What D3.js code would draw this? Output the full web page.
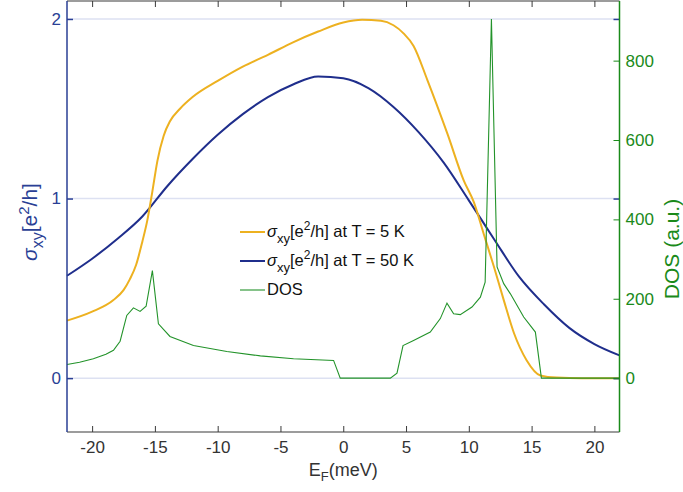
<!DOCTYPE html>
<html>
<head>
<meta charset="utf-8">
<script src="https://cdn.jsdelivr.net/npm/d3@7"></script>
<style>
  body { margin: 0; background: #fff; }
  svg { font-family: "Liberation Sans", Arial, Helvetica, sans-serif; }
</style>
</head>
<body>
<svg id="chart" width="683" height="492"></svg>
<script>
// sigma_xy at T = 5 K
let sig5X = [-22, -20, -18.3, -17.5, -17, -16.5, -16, -15.6, -15.2, -14.8, -14.3, -13.8, -13, -12, -10, -8, -6, -4, -2, 0,
  1.5, 3, 4, 4.8, 5.6, 6.7, 8.3, 9.6, 10.4, 11.2, 12, 12.8, 13.6, 14.6, 15.7, 17, 19, 22]
let sig5Y = [0.32, 0.37, 0.435, 0.49, 0.55, 0.63, 0.76, 0.88, 1.04, 1.21, 1.35, 1.43, 1.50, 1.565, 1.655, 1.735, 1.80, 1.87, 1.93, 1.98,
  1.995, 1.99, 1.965, 1.92, 1.85, 1.66, 1.36, 1.10, 0.98, 0.80, 0.62, 0.43, 0.25, 0.10, 0.015, 0.003, 0, 0]

// sigma_xy at T = 50 K
let sig50X = [-22, -20, -18, -16, -14, -12, -10, -8, -6, -4, -2, 0, 2, 4, 6, 8, 10, 12, 14, 16, 18, 20, 22]
let sig50Y = [0.57, 0.665, 0.775, 0.90, 1.07, 1.22, 1.355, 1.47, 1.565, 1.635, 1.68, 1.67, 1.615, 1.51, 1.37, 1.20, 0.99, 0.775,
  0.565, 0.41, 0.28, 0.19, 0.127]

// density of states (right axis)
let dosX = [-22, -21, -19.9, -18.9, -18.3, -17.77, -17.24, -16.71, -16.18, -15.7, -15.2, -14.72, -13.8, -11.93, -9.27, -6.6, -3.96,
  -0.77, -0.24, 3.75, 4.28, 4.76, 5.6, 6.93, 7.73, 8.26, 8.79, 9.32, 10.25, 10.92, 11.3, 11.8, 12.25, 12.78, 13.3, 14.37, 15.3,
  15.78, 22]
let dosY = [34.5, 40, 49, 60, 70, 93, 158, 177, 168, 181, 271, 137, 105, 82, 67, 56, 49,
  44.6, 0, 0, 12.6, 82, 95, 116, 150, 189, 162, 160, 179, 204, 242, 905, 280, 238, 213, 154, 116,
  0, 0]

let xTicks = [-20, -15, -10, -5, 0, 5, 10, 15, 20]
let leftTicks = [0, 1, 2]
let rightTicks = [0, 200, 400, 600, 800]

const W = 683, H = 492
const m = {left: 67, right: 63.5, top: 1, bottom: 60}
const c5 = '#edb120', c50 = '#1f2e8c', cDos = '#23932a'
const axBlue = '#2a3f95', axGreen = '#1a8a1a', axGray = '#3a3a3a'
const tick = 6
const fmt = d => String(d)

let svg = d3.select('#chart')
let x = d3.scaleLinear().domain([-22, 22]).range([m.left, W - m.right])
let yL = d3.scaleLinear().domain([-0.3, 2.1]).range([H - m.bottom, m.top])
let yR = d3.scaleLinear().domain([-0.3 * 452.5, 2.1 * 452.5]).range([H - m.bottom, m.top])

// grid lines on left ticks
svg.append('g').selectAll('line').data(leftTicks).join('line')
  .attr('x1', m.left).attr('x2', W - m.right)
  .attr('y1', d => yL(d)).attr('y2', d => yL(d))
  .attr('stroke', '#dde1f2').attr('stroke-width', 1.5)

// curves
let pts = (xs, ys) => xs.map((v, i) => [v, ys[i]])
let lineL = d3.line().x(d => x(d[0])).y(d => yL(d[1])).curve(d3.curveMonotoneX)
let lineR = d3.line().x(d => x(d[0])).y(d => yR(d[1]))

svg.append('path').datum(pts(sig50X, sig50Y)).attr('d', lineL)
  .attr('fill', 'none').attr('stroke', c50).attr('stroke-width', 2)
svg.append('path').datum(pts(sig5X, sig5Y)).attr('d', lineL)
  .attr('fill', 'none').attr('stroke', c5).attr('stroke-width', 2)
svg.append('path').datum(pts(dosX, dosY)).attr('d', lineR)
  .attr('fill', 'none').attr('stroke', cDos).attr('stroke-width', 1.1)

// axes
let styleAxis = function(g, col, txtCol) {
  g.select('.domain').remove()
  g.selectAll('.tick line').attr('stroke', col).attr('stroke-width', 1)
  g.selectAll('.tick text').attr('fill', txtCol).attr('font-size', 17)
    .attr('font-family', '"Liberation Sans", Arial, sans-serif')
}

let gB = svg.append('g').attr('transform', 'translate(0,' + (H - m.bottom) + ')')
  .call(d3.axisBottom(x).tickValues(xTicks).tickSize(-tick).tickPadding(9).tickFormat(fmt))
styleAxis(gB, axGray, '#333')
let gT = svg.append('g').attr('transform', 'translate(0,' + m.top + ')')
  .call(d3.axisTop(x).tickValues(xTicks).tickSize(-tick).tickFormat(''))
styleAxis(gT, axGray, '#333')
let gL = svg.append('g').attr('transform', 'translate(' + m.left + ',0)')
  .call(d3.axisLeft(yL).tickValues(leftTicks).tickSize(-tick).tickPadding(6).tickFormat(fmt))
styleAxis(gL, axBlue, axBlue)
gL.selectAll('.tick line').attr('stroke-width', 1.5)
let gR2 = svg.append('g').attr('transform', 'translate(' + (W - m.right) + ',0)')
  .call(d3.axisRight(yL).tickValues(leftTicks).tickSize(-tick).tickFormat(''))
styleAxis(gR2, axBlue, axBlue)
gR2.selectAll('.tick line').attr('stroke-width', 1.5)
let gR = svg.append('g').attr('transform', 'translate(' + (W - m.right) + ',0)')
  .call(d3.axisRight(yR).tickValues(rightTicks).tickSize(-tick).tickPadding(6).tickFormat(fmt))
styleAxis(gR, axGreen, axGreen)

// frame
svg.append('line').attr('x1', m.left).attr('x2', W - m.right).attr('y1', H - m.bottom).attr('y2', H - m.bottom)
  .attr('stroke', axGray).attr('stroke-width', 1.2)
svg.append('line').attr('x1', m.left).attr('x2', W - m.right).attr('y1', m.top).attr('y2', m.top)
  .attr('stroke', axGray).attr('stroke-width', 1.2)
svg.append('line').attr('x1', m.left).attr('x2', m.left).attr('y1', m.top).attr('y2', H - m.bottom)
  .attr('stroke', axBlue).attr('stroke-width', 1.5)
svg.append('line').attr('x1', W - m.right).attr('x2', W - m.right).attr('y1', m.top).attr('y2', H - m.bottom)
  .attr('stroke', axGreen).attr('stroke-width', 1.5)

// axis titles
let xt = svg.append('text').attr('x', x(0)).attr('y', 476).attr('text-anchor', 'middle')
  .attr('font-size', 18).attr('fill', '#333')
xt.append('tspan').text('E')
xt.append('tspan').attr('dy', 5).attr('font-size', 13).text('F')
xt.append('tspan').attr('dy', -5).text('(meV)')

let lt = svg.append('text').attr('transform', 'translate(37,222) rotate(-90)')
  .attr('text-anchor', 'middle').attr('font-size', 21).attr('fill', axBlue)
lt.append('tspan').attr('font-style', 'italic').text('σ')
lt.append('tspan').attr('dy', 6).attr('font-size', 16).text('xy')
lt.append('tspan').attr('dy', -6).text('[e')
lt.append('tspan').attr('dy', -8).attr('font-size', 15).text('2')
lt.append('tspan').attr('dy', 8).text('/h]')

svg.append('text').attr('transform', 'translate(679,249) rotate(-90)')
  .attr('text-anchor', 'middle').attr('font-size', 21).attr('fill', axGreen).text('DOS (a.u.)')

// legend
let legRows = [
  {col: c5, w: 2, label: ' at T = 5 K', sig: true},
  {col: c50, w: 2, label: ' at T = 50 K', sig: true},
  {col: cDos, w: 1.1, label: 'DOS', sig: false}
]
let lg = svg.append('g')
legRows.forEach(function(r, i) {
  let yy = 232 + i * 29
  lg.append('line').attr('x1', 240).attr('x2', 265).attr('y1', yy).attr('y2', yy)
    .attr('stroke', r.col).attr('stroke-width', r.w)
  let t = lg.append('text').attr('x', 267).attr('y', yy + 5).attr('font-size', 16.5).attr('fill', '#111')
  if (r.sig) {
    t.append('tspan').attr('font-style', 'italic').text('σ')
    t.append('tspan').attr('dy', 6).attr('font-size', 13).text('xy')
    t.append('tspan').attr('dy', -6).text('[e')
    t.append('tspan').attr('dy', -7).attr('font-size', 12).text('2')
    t.append('tspan').attr('dy', 7).text('/h]' + r.label)
  } else {
    t.text(r.label)
  }
})
</script>
</body>
</html>
